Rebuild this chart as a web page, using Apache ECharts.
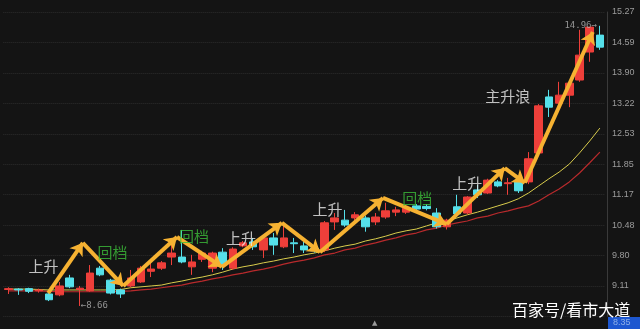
<!DOCTYPE html>
<html><head><meta charset="utf-8">
<script src="https://cdn.jsdelivr.net/npm/echarts@6/dist/echarts.min.js"></script>
<style>html,body{margin:0;padding:0;background:#141414;}#c{width:640px;height:329px;}</style>
</head><body><div id="c"></div>
<script>
// ---- data ----
const opens  = [9.03,9.04,9.05,9.00,8.93,8.91,9.29,9.03,9.00,9.51,9.24,9.02,9.11,9.20,9.44,9.51,9.76,9.76,9.54,9.71,9.51,9.87,9.51,10.01,10.10,9.92,10.19,9.99,10.08,10.01,9.96,9.92,10.55,10.59,10.64,10.64,10.55,10.66,10.77,10.77,10.91,10.90,10.75,10.44,10.89,10.75,11.27,11.20,11.45,11.41,11.47,11.45,12.10,13.36,13.22,13.40,13.74,14.37,14.75];
const closes = [9.05,9.02,8.99,9.02,8.80,9.11,9.09,9.06,9.40,9.36,8.95,8.93,9.29,9.51,9.49,9.63,9.85,9.65,9.65,9.85,9.85,9.58,9.94,10.08,9.99,10.19,10.03,10.19,10.06,9.92,9.90,10.53,10.64,10.48,10.71,10.44,10.66,10.80,10.82,10.86,10.84,10.85,10.44,10.59,10.73,11.11,11.16,11.49,11.36,11.43,11.25,11.97,13.16,13.13,13.40,13.67,14.30,14.93,14.48];
const lows   = [8.93,8.91,8.95,8.96,8.77,8.88,9.06,8.66,8.98,9.33,8.92,8.84,9.08,9.18,9.31,9.47,9.58,9.62,9.36,9.65,9.42,9.47,9.47,9.98,9.92,9.74,9.81,9.96,9.85,9.85,9.86,9.87,10.37,10.44,10.55,10.33,10.48,10.62,10.68,10.73,10.80,10.81,10.40,10.38,10.70,10.72,11.09,11.18,11.33,11.16,11.20,11.40,12.05,12.91,13.02,13.13,13.70,14.15,14.42];
const highs  = [9.08,9.06,9.07,9.05,8.95,9.20,9.36,9.11,9.58,9.56,9.27,9.05,9.47,9.56,9.65,9.67,10.03,10.37,9.81,9.90,9.88,9.96,9.98,10.12,10.19,10.24,10.30,10.53,10.19,10.19,10.00,10.57,10.75,10.82,10.77,10.69,10.75,10.98,10.89,10.91,10.95,10.95,10.86,10.62,11.16,11.13,11.38,11.52,11.49,11.54,11.50,12.12,13.20,13.52,13.70,13.74,14.87,14.93,14.96];
const maYellow = [9.04,9.04,9.04,9.03,9.02,9.02,9.02,9.02,9.02,9.02,9.02,9.03,9.07,9.09,9.11,9.13,9.18,9.22,9.27,9.31,9.36,9.42,9.49,9.54,9.58,9.63,9.67,9.72,9.76,9.81,9.85,9.90,9.96,10.01,10.05,10.12,10.17,10.23,10.30,10.35,10.39,10.46,10.53,10.57,10.64,10.71,10.77,10.84,10.91,10.98,11.07,11.20,11.36,11.52,11.67,11.85,12.10,12.37,12.66];
const maRed = [9.00,9.00,9.00,9.00,8.99,8.98,8.98,8.98,8.98,8.98,8.98,8.99,9.00,9.02,9.04,9.07,9.10,9.13,9.18,9.22,9.27,9.31,9.36,9.40,9.45,9.49,9.54,9.60,9.65,9.69,9.74,9.81,9.85,9.92,9.96,10.03,10.08,10.14,10.19,10.26,10.30,10.37,10.41,10.48,10.53,10.57,10.64,10.68,10.75,10.80,10.86,10.91,11.02,11.16,11.29,11.45,11.65,11.88,12.12];
const tickLabels = ['8.43','9.11','9.80','10.48','11.17','11.85','12.53','13.22','13.90','14.59','15.27'];
// zig-zag arrow vertices: [candle index, price]
const zigzag = [[3.9,8.95],[7.3,10.08],[11.26,9.11],[16.53,10.21],[20.94,9.54],[26.82,10.53],[30.55,9.87],[36.73,11.09],[42.98,10.50],[48.67,11.76],[50.64,11.43],[57.3,14.82]];
const annoText = ['上升','回档','回档','上升','上升','回档','上升','主升浪'];
const annoKind = ['up','back','back','up','up','back','up','up'];
const annoPos  = [[3.44,9.55],[10.2,9.86],[18.2,10.23],[22.8,10.18],[31.3,10.84],[40.1,11.08],[45.0,11.41],[48.96,13.37]];
const lowMark  = [7, 8.66];
const highMark = [58, 14.96];
const lastBox = '8.35';

const N = opens.length;
const categories = opens.map((_, i) => String(i + 1));
const yInterval = 0.68444;
const yMin = 9.11 - yInterval;
const yMax = yMin + yInterval * 10;

const candleData = opens.map((o, i) => [o, closes[i], lows[i], highs[i]]);
const segs = [];
for (let i = 0; i < zigzag.length - 1; i++) segs.push({coords: [zigzag[i], zigzag[i + 1]]});
const annoData = annoText.map((t, i) => ({
  name: t, value: annoPos[i],
  label: {color: annoKind[i] === 'back' ? '#3cbd3a' : '#ececec'}
}));

const chart = echarts.init(document.getElementById('c'), null, {renderer: 'canvas'});
chart.setOption({
  backgroundColor: '#141414',
  animation: false,
  grid: {left: 3.3, right: 35, top: 12, bottom: 12.6},
  xAxis: [
    {type: 'category', data: categories, boundaryGap: true, show: false},
    {type: 'value', min: -0.5, max: N - 0.5, show: false}
  ],
  yAxis: {
    type: 'value', position: 'right', min: yMin, max: yMax, interval: yInterval, offset: 2,
    axisLine: {show: true, onZero: false, lineStyle: {color: '#3a3a3a', width: 1}},
    axisTick: {show: false},
    axisLabel: {color: '#9c9c9c', fontSize: 9, fontFamily: 'Liberation Sans', margin: 5,
      showMinLabel: false,
      formatter: v => tickLabels[Math.round((v - yMin) / yInterval)] || ''},
    splitLine: {show: true, lineStyle: {color: '#2c2c2c', type: 'dotted', width: 1}}
  },
  series: [
    {type: 'line', data: maRed, symbol: 'none', lineStyle: {color: '#b82a2c', width: 1.2}, z: 1, silent: true},
    {type: 'line', data: maYellow, symbol: 'none', lineStyle: {color: '#d9cc4c', width: 1}, z: 1, silent: true},
    {type: 'candlestick', data: candleData, barWidth: 8, z: 2,
      itemStyle: {color: '#ee3f3a', color0: '#55e0ea', borderColor: '#ee3f3a', borderColor0: '#55e0ea', borderWidth: 1}},
    {type: 'lines', coordinateSystem: 'cartesian2d', xAxisIndex: 1, yAxisIndex: 0, z: 5, silent: true,
      symbol: ['none', 'arrow'], symbolSize: 12,
      lineStyle: {color: '#f6b232', width: 4, opacity: 1, curveness: 0},
      data: segs},
    {type: 'scatter', xAxisIndex: 1, yAxisIndex: 0, symbolSize: 0, z: 8, silent: true,
      label: {show: true, position: 'inside', formatter: p => p.name, fontSize: 15,
        fontFamily: 'Noto Sans CJK SC'},
      data: annoData},
    {type: 'scatter', xAxisIndex: 1, yAxisIndex: 0, symbolSize: 0, z: 8, silent: true,
      label: {show: true, color: '#b4b4b4', fontSize: 9, fontFamily: 'DejaVu Sans Mono'},
      data: [
        {value: highMark, label: {position: 'left', distance: 3, formatter: highMark[1].toFixed(2) + '→'}},
        {value: lowMark, label: {position: 'right', distance: 1, formatter: '←' + lowMark[1].toFixed(2)}}
      ]}
  ],
  graphic: [
    {type: 'rect', shape: {x: 608, y: 317, width: 32, height: 12}, style: {fill: '#1d57d0'}, z: 20},
    {type: 'text', x: 613, y: 318, style: {text: lastBox, fill: '#8fb0e8', font: '9px Liberation Sans'}, z: 21},
    {type: 'text', x: 372, y: 320, style: {text: '▲', fill: '#9a9a9a', font: '7px DejaVu Sans'}, z: 21},
    {type: 'text', x: 512, y: 302, style: {text: '百家号/看市大道', fill: '#ffffff', font: '16px "Noto Sans CJK SC"'}, z: 22}
  ]
});
</script>
</body></html>
